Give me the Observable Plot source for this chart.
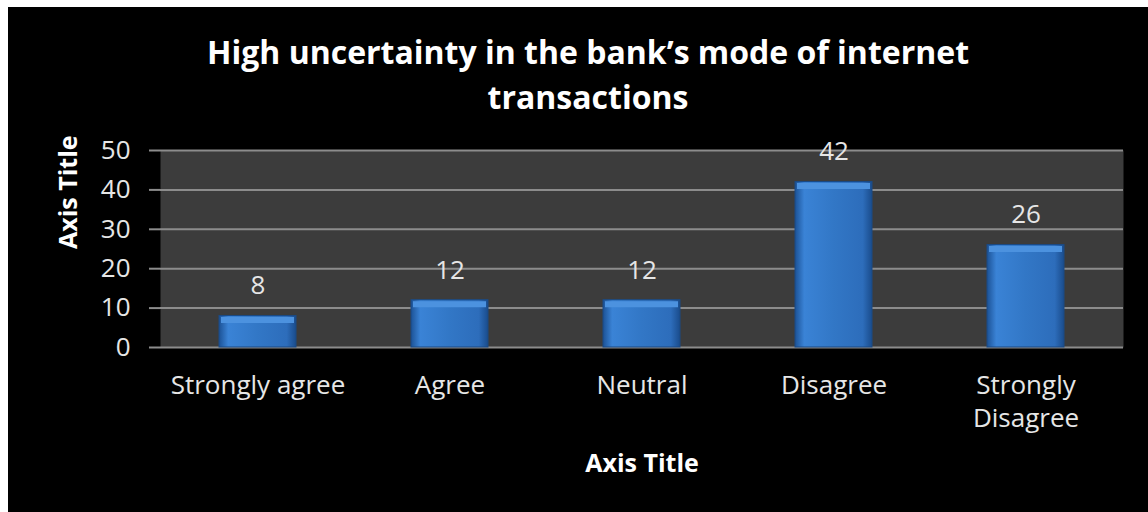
<!DOCTYPE html>
<html><head><meta charset="utf-8">
<script src="https://cdn.jsdelivr.net/npm/d3@7"></script>
<script src="https://cdn.jsdelivr.net/npm/@observablehq/plot@0.6"></script>
<style>
body{margin:0;background:#fff;}
#wrap{position:absolute;left:8px;top:7px;width:1140px;height:505px;background:#000;font-family:"Open Sans",Lato,sans-serif;}
#title{color:#fff;font-weight:bold;font-size:32px;text-align:center;line-height:45px;padding-top:22px;padding-left:20px;height:113px;box-sizing:border-box;}
svg{display:block;}
</style></head>
<body>
<div id="wrap"><div id="title">High uncertainty in the bank’s mode of internet<br>transactions</div><div id="chart"></div></div>
<script>
const categories = ["Strongly agree","Agree","Neutral","Disagree","Strongly Disagree"];
const xTickLabels = ["Strongly agree","Agree","Neutral","Disagree","Strongly\nDisagree"];
const values = [8,12,12,42,26];
const yTicks = [0,10,20,30,40,50];
const yTitle = "Axis Title";
const xTitle = "Axis Title";

const data = categories.map((c,i)=>({category:c, value:values[i]}));

const chart = Plot.plot({
  width:1140, height:392,
  marginTop:30, marginBottom:165, marginLeft:152, marginRight:25,
  style:{background:"transparent", color:"#e6e6e6", fontFamily:"'Open Sans', sans-serif", fontSize:"26px"},
  x:{domain:categories, paddingInner:0.6, paddingOuter:0.3, label:null},
  y:{domain:[0,50], label:null},
  marks:[
    Plot.frame({fill:"#3c3c3c", stroke:null}),
    Plot.gridY(yTicks, {stroke:"#8c8c8c", strokeOpacity:1, strokeWidth:2}),
    Plot.axisY({ticks:yTicks, tickSize:11, tickPadding:19, fontSize:26, stroke:"#8c8c8c", strokeWidth:2, line:true, label:null}),
    Plot.axisX({tickSize:0, tickPadding:22, fontSize:26, lineHeight:1.3, label:null,
      tickFormat:d=>xTickLabels[categories.indexOf(d)]}),
    Plot.barY(data, {x:"category", y:"value", fill:"url(#barGrad)", stroke:"#1a4a85", strokeWidth:1}),
    Plot.tickY(data, {x:"category", y:"value", stroke:"#4c92df", strokeWidth:6, dy:4, insetLeft:2, insetRight:2}),
    Plot.text(data, {x:"category", y:"value", text:d=>String(d.value), dy:-30, fill:"#e6e6e6", fontSize:26}),
    Plot.text([yTitle], {frameAnchor:"left", dx:-92, rotate:-90, fontWeight:"bold", fontSize:25, fill:"#fff"}),
    Plot.text([xTitle], {frameAnchor:"bottom", dy:116, lineAnchor:"middle", fontWeight:"bold", fontSize:25, fill:"#fff"})
  ]
});
const defs = d3.select(chart).insert("defs", ":first-child");
const g = defs.append("linearGradient").attr("id","barGrad").attr("x1","0").attr("x2","1").attr("y1","0").attr("y2","0");
[["0%","#1c5296"],["12%","#3a83d6"],["50%","#3277c6"],["88%","#2d6dbb"],["100%","#1a4c8c"]].forEach(([o,c])=>g.append("stop").attr("offset",o).attr("stop-color",c));
document.getElementById("chart").appendChild(chart);
</script>
</body></html>
